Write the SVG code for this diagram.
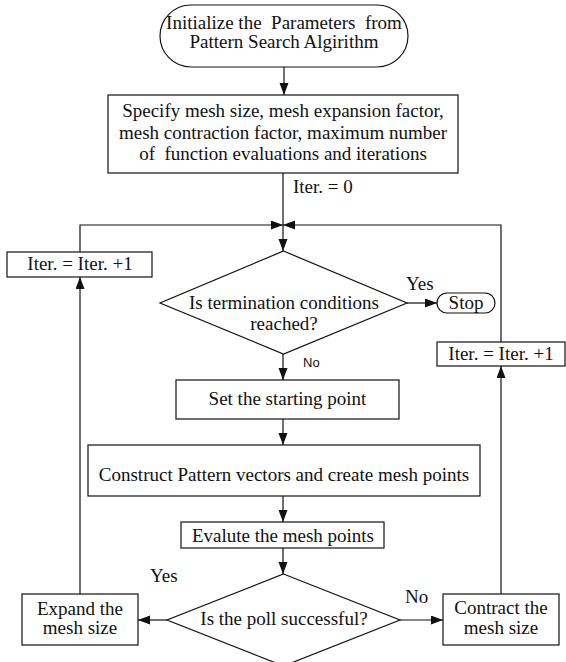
<svg xmlns="http://www.w3.org/2000/svg" width="566" height="662" viewBox="0 0 566 662">
<style>
.s{fill:#fff;stroke:#111;stroke-width:1.2}
.t{font-family:"Liberation Serif","Times New Roman",serif;font-size:19px;fill:#111;text-anchor:middle;white-space:pre}
.l{font-family:"Liberation Serif","Times New Roman",serif;font-size:19px;fill:#111;white-space:pre}
.n{font-family:"Liberation Sans",Arial,sans-serif;font-size:13px;fill:#111}
.c{fill:none;stroke:#111;stroke-width:1.2}
</style>
<defs>
<marker id="a" markerUnits="userSpaceOnUse" markerWidth="13" markerHeight="10" refX="12" refY="4.5" orient="auto">
<path d="M0,0 L12,4.5 L0,9 z" fill="#111"/>
</marker>
</defs>
<rect width="566" height="662" fill="#fff"/>
<g id="connectors">
<path class="c" d="M284,67 V95" marker-end="url(#a)"/>
<path class="c" d="M283,173 V251" marker-end="url(#a)"/>
<path class="c" d="M80,252 V225 H283" marker-end="url(#a)"/>
<path class="c" d="M501,342 V225 H283" marker-end="url(#a)"/>
<path class="c" d="M407,303 H437" marker-end="url(#a)"/>
<path class="c" d="M283,354 V380" marker-end="url(#a)"/>
<path class="c" d="M283,419 V445" marker-end="url(#a)"/>
<path class="c" d="M283,496 V522" marker-end="url(#a)"/>
<path class="c" d="M283,548 V574" marker-end="url(#a)"/>
<path class="c" d="M167,620 H138" marker-end="url(#a)"/>
<path class="c" d="M400,620 H443" marker-end="url(#a)"/>
<path class="c" d="M80,594 V277" marker-end="url(#a)"/>
<path class="c" d="M501,594 V366" marker-end="url(#a)"/>
<text class="l" x="293" y="193">Iter. = 0</text>
<text class="l" x="406" y="290">Yes</text>
<text class="n" x="303" y="367">No</text>
<text class="l" x="150" y="582">Yes</text>
<text class="l" x="405" y="603">No</text>
</g>
<g id="start">
<rect class="s" x="160" y="5" width="248" height="62" rx="31" ry="31"/>
<text class="t" x="284" y="29">Initialize the  Parameters  from</text>
<text class="t" x="284" y="48">Pattern Search Algirithm</text>
</g>
<g id="specify">
<rect class="s" x="108" y="95" width="350" height="78"/>
<text class="t" x="283" y="117">Specify mesh size, mesh expansion factor,</text>
<text class="t" x="283" y="139">mesh contraction factor, maximum number</text>
<text class="t" x="283" y="160">of  function evaluations and iterations</text>
</g>
<g id="iterLeft">
<rect class="s" x="7" y="252" width="145" height="25"/>
<text class="t" x="80" y="270">Iter. = Iter. +1</text>
</g>
<g id="termination">
<polygon class="s" points="283.5,251 407,303 283.5,354 160,303"/>
<text class="t" x="284" y="309">Is termination conditions</text>
<text class="t" x="284" y="330">reached?</text>
</g>
<g id="stop">
<rect class="s" x="437" y="293" width="58" height="20" rx="10" ry="10"/>
<text class="t" x="466" y="309">Stop</text>
</g>
<g id="iterRight">
<rect class="s" x="437" y="342" width="128" height="24"/>
<text class="t" x="501" y="360">Iter. = Iter. +1</text>
</g>
<g id="setStart">
<rect class="s" x="176" y="380" width="223" height="39"/>
<text class="t" x="287.5" y="405">Set the starting point</text>
</g>
<g id="construct">
<rect class="s" x="88" y="445" width="392" height="51"/>
<text class="t" x="284" y="481">Construct Pattern vectors and create mesh points</text>
</g>
<g id="evaluate">
<rect class="s" x="181" y="522" width="203" height="26"/>
<text class="t" x="283" y="542">Evalute the mesh points</text>
</g>
<g id="poll">
<polygon class="s" points="283.5,574 400,620 283.5,666 167,620"/>
<text class="t" x="284" y="625">Is the poll successful?</text>
</g>
<g id="expand">
<rect class="s" x="22" y="594" width="116" height="51"/>
<text class="t" x="80" y="615">Expand the</text>
<text class="t" x="80" y="634">mesh size</text>
</g>
<g id="contract">
<rect class="s" x="443" y="594" width="116" height="51"/>
<text class="t" x="501" y="614">Contract the</text>
<text class="t" x="501" y="634">mesh size</text>
</g>
</svg>
